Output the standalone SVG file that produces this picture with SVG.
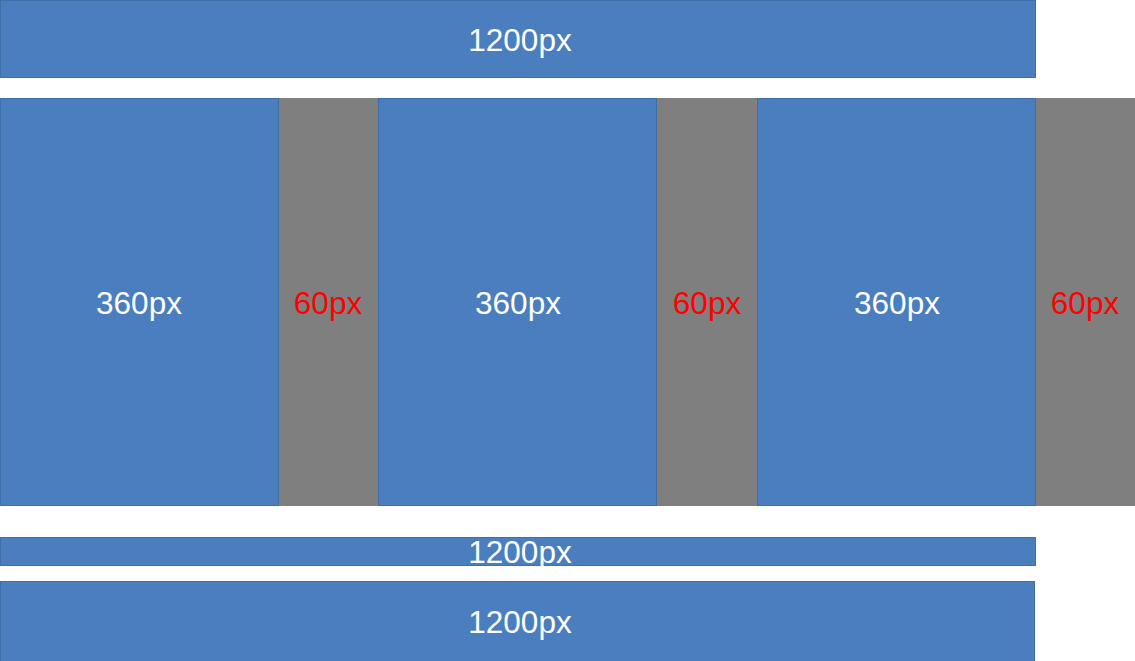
<svg xmlns="http://www.w3.org/2000/svg" width="1135" height="661" viewBox="0 0 1135 661">
<style>
.b{fill:#4a7ebf;stroke:#3f6fa8;stroke-width:1}
.g{fill:#7f7f7f}
.t{font-family:"Liberation Sans",Arial,sans-serif;font-size:31.5px;fill:#ffffff;text-anchor:middle}
.r{fill:#ff0000}
</style>
<rect width="1135" height="661" fill="#ffffff"/>
<g id="top"><rect class="b" x="0.5" y="0.5" width="1035" height="77"/><text class="t" x="520" y="51">1200px</text></g>
<g id="col1"><rect class="b" x="0.5" y="98.5" width="278" height="407"/><text class="t" x="139" y="314">360px</text></g>
<g id="gap1"><rect class="g" x="279" y="98" width="99" height="408"/><text class="t r" x="328" y="314">60px</text></g>
<g id="col2"><rect class="b" x="378.5" y="98.5" width="278" height="407"/><text class="t" x="518" y="314">360px</text></g>
<g id="gap2"><rect class="g" x="657" y="98" width="100" height="408"/><text class="t r" x="707" y="314">60px</text></g>
<g id="col3"><rect class="b" x="757.5" y="98.5" width="278" height="407"/><text class="t" x="897" y="314">360px</text></g>
<g id="gap3"><rect class="g" x="1036" y="98" width="99" height="408"/><text class="t r" x="1085" y="314">60px</text></g>
<g id="thin"><rect class="b" x="0.5" y="537.5" width="1035" height="28"/><text class="t" x="520" y="563">1200px</text></g>
<g id="bottom"><rect class="b" x="0.5" y="581.5" width="1034" height="80"/><text class="t" x="520" y="633">1200px</text></g>
<g id="connectors"/>
</svg>
